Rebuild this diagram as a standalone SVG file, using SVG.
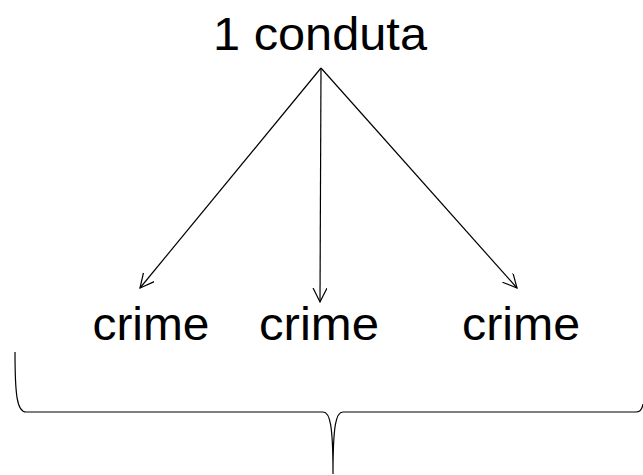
<svg xmlns="http://www.w3.org/2000/svg" width="643" height="475" viewBox="0 0 643 475">
<style>
.t{font-family:"Liberation Sans",Arial,sans-serif;font-size:46px;fill:#000}
.c{stroke:#000;stroke-width:1.2;fill:none}
</style>
<defs>
<marker id="ah" markerWidth="16" markerHeight="16" refX="14" refY="7" orient="auto" markerUnits="userSpaceOnUse">
<path d="M0,0 L14,7 L0,14" fill="none" stroke="#000" stroke-width="1.2"/>
</marker>
</defs>
<rect width="643" height="475" fill="#fff"/>
<g id="n-conduta"><text class="t" x="320" y="50" text-anchor="middle" textLength="214" lengthAdjust="spacingAndGlyphs">1 conduta</text></g>
<g id="n-crime1"><text class="t" x="151" y="340" text-anchor="middle" textLength="117" lengthAdjust="spacingAndGlyphs">crime</text></g>
<g id="n-crime2"><text class="t" x="319" y="340" text-anchor="middle" textLength="120" lengthAdjust="spacingAndGlyphs">crime</text></g>
<g id="n-crime3"><text class="t" x="521" y="340" text-anchor="middle" textLength="118" lengthAdjust="spacingAndGlyphs">crime</text></g>
<g id="connectors">
<line class="c" x1="321" y1="68" x2="140" y2="288" marker-end="url(#ah)"/>
<line class="c" x1="321" y1="68" x2="320" y2="302" marker-end="url(#ah)"/>
<line class="c" x1="321" y1="68" x2="517" y2="288" marker-end="url(#ah)"/>
</g>
<g id="brace">
<path class="c" d="M15,352 C15,395 17,412 26,412 L323,412 C330,412 333,425 333,474 M333,474 C333,425 336,412 343,412 L636,412 C640,412 642,410 643,404"/>
</g>
</svg>
